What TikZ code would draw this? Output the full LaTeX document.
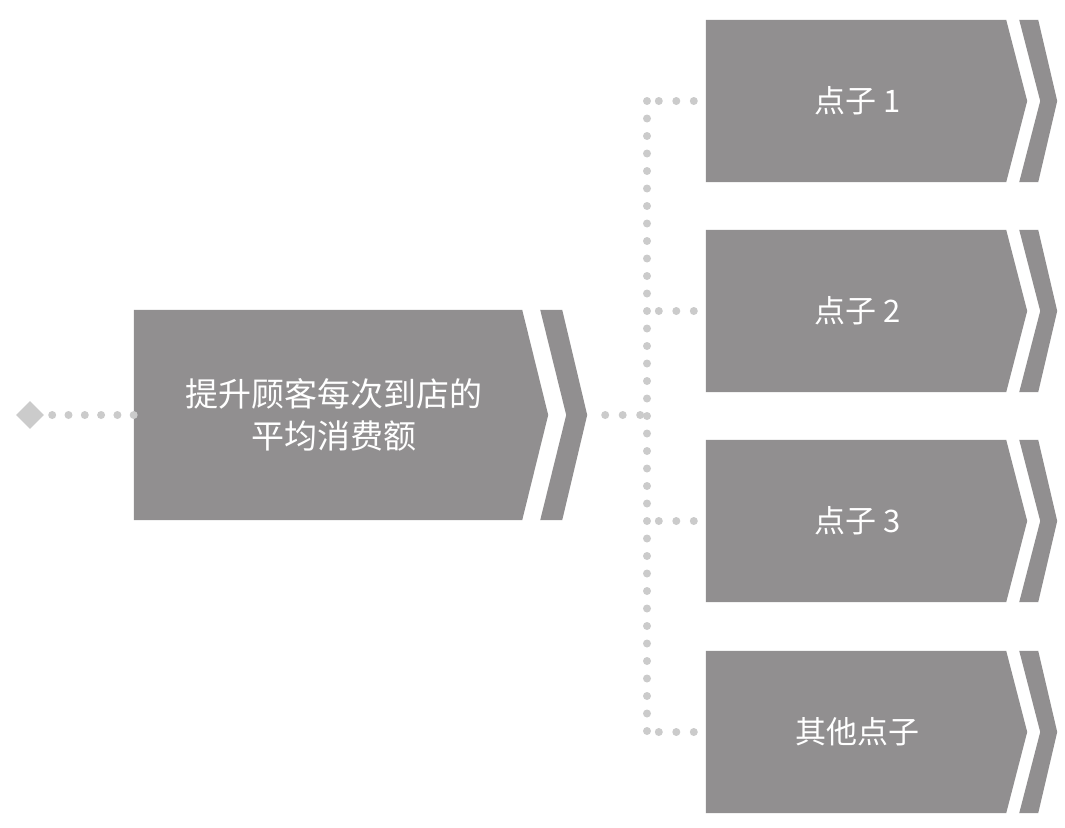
\documentclass[tikz,border=0pt]{standalone}
\usepackage{fontspec}
\setmainfont{Noto Sans CJK SC}
\usetikzlibrary{shapes.geometric}
\definecolor{boxgray}{HTML}{918F90}
\definecolor{dotgray}{HTML}{CBCBCB}
\pgfdeclarelayer{background}
\pgfsetlayers{background,main}
\tikzset{
  dots/.style={draw=dotgray, line width=8pt, line cap=round, dash pattern=on 0pt off 17.5pt},
  mainbox/.style={rectangle, minimum width=388pt, minimum height=210pt, inner sep=0pt, text=white, align=center, font=\fontsize{33}{42}\selectfont},
  ptbox/.style={rectangle, minimum width=300pt, minimum height=162pt, inner sep=0pt, text=white, align=center, font=\fontsize{31}{36}\selectfont},
}
\newcommand\ptshape[1]{%
  \begin{pgfonlayer}{background}
  \fill[boxgray] (#1.north west) -- (#1.north east) -- ([xshift=21pt]#1.east) -- (#1.south east) -- (#1.south west) -- cycle;
  \fill[boxgray] ([xshift=13pt]#1.north east) -- ([xshift=32pt]#1.north east) -- ([xshift=51pt]#1.east) -- ([xshift=32pt]#1.south east) -- ([xshift=13pt]#1.south east) -- ([xshift=34pt]#1.east) -- cycle;
  \end{pgfonlayer}}
\begin{document}
\begin{tikzpicture}[x=1pt,y=-1pt]
\useasboundingbox (0,0) rectangle (1065,827);
% main box
\node[mainbox] (m) at (328,415) {\hspace*{12pt}提升顾客每次到店的\\\hspace*{12pt}平均消费额};
\begin{pgfonlayer}{background}
\fill[boxgray] (m.north west) -- (m.north east) -- ([xshift=26pt]m.east) -- (m.south east) -- (m.south west) -- cycle;
\fill[boxgray] ([xshift=18pt]m.north east) -- ([xshift=40pt]m.north east) -- ([xshift=65pt]m.east) -- ([xshift=40pt]m.south east) -- ([xshift=18pt]m.south east) -- ([xshift=44pt]m.east) -- cycle;
\end{pgfonlayer}
% start diamond
\node[diamond, fill=dotgray, minimum width=28pt, minimum height=28pt, inner sep=0pt] (s) at (30,415) {};
\draw[dots, dash pattern=on 0pt off 16.3pt] ([xshift=8pt]s.east) -- (m.west);
% point boxes
\node[ptbox] (p1) at (856,101) {\hspace*{4pt}点子 1};
\node[ptbox] (p2) at (856,311) {\hspace*{4pt}点子 2};
\node[ptbox] (p3) at (856,521) {\hspace*{4pt}点子 3};
\node[ptbox] (p4) at (856,732) {\hspace*{2pt}其他点子};
\ptshape{p1}\ptshape{p2}\ptshape{p3}\ptshape{p4}
% connectors
\coordinate (vtop) at (647,101);
\coordinate (vbot) at (647,732);
\coordinate (join) at (641,415);
\draw[dots] ([xshift=83pt]m.east) -- (join);
\draw[dots] (vtop) -- (vbot);
\draw[dots] ([xshift=-47pt]p1.west) -- ([xshift=-12pt]p1.west);
\draw[dots] ([xshift=-47pt]p2.west) -- ([xshift=-12pt]p2.west);
\draw[dots] ([xshift=-47pt]p3.west) -- ([xshift=-12pt]p3.west);
\draw[dots] ([xshift=-47pt]p4.west) -- ([xshift=-12pt]p4.west);
\end{tikzpicture}
\end{document}
